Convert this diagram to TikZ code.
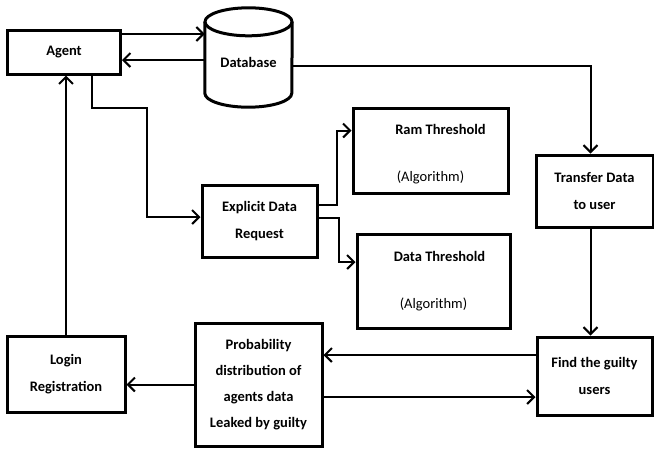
\documentclass[tikz,border=0pt]{standalone}
\usepackage{fontspec}
\setmainfont{Carlito}
\usetikzlibrary{shapes.geometric, arrows.meta, positioning, calc}

\begin{document}
\begin{tikzpicture}[
    x=1pt, y=-1pt,
    block/.style={rectangle, draw, line width=3pt, align=center,
                  font=\bfseries\fontsize{14.5}{27}\selectfont, inner sep=2pt},
    conn/.style={line width=2pt, -{Straight Barb[length=7pt, width=14pt, line width=2pt]}}
]
\useasboundingbox (0,0) rectangle (654,448);

% Top row
\node[block, minimum width=113pt, minimum height=44pt] at (64,52) (agent) {Agent};
\node[rectangle, minimum width=87pt, minimum height=99pt, inner sep=0pt] at (248.5,57.5) (db) {};
% cylinder outline round the database node
\draw[line width=3pt, fill=white]
    ([yshift=-14pt]db.north west) -- ([yshift=14pt]db.south west)
    arc[start angle=180, end angle=360, x radius=43.5pt, y radius=14pt]
    -- ([yshift=-14pt]db.north east);
\draw[line width=3pt] ([yshift=-14pt]db.north) ellipse[x radius=43.5pt, y radius=14pt];
\node[font=\bfseries\fontsize{14.5}{17}\selectfont] at ([yshift=-5pt]db.center) (dblabel) {Database};

% Middle
\node[block, minimum width=115pt, minimum height=72pt] at (259.5,221) (explicit) {Explicit Data\\Request};
\node[block, minimum width=155pt, minimum height=85pt] at (430.5,150.5) (ram)
    {\rule{0pt}{18pt}\hspace*{20pt}Ram Threshold\\[20pt]{\mdseries (Algorithm)}};
\node[block, minimum width=153pt, minimum height=94pt] at (433.5,281) (datath)
    {\hspace*{12pt}Data Threshold\\[20pt]{\mdseries (Algorithm)}};
\node[block, minimum width=117pt, minimum height=72pt] at (594.5,191) (transfer) {Transfer Data\\to user};

% Bottom row
\node[block, minimum width=118pt, minimum height=76pt] at (66,374) (login) {Login\\Registration};
\node[block, minimum width=127pt, minimum height=123pt, font=\bfseries\fontsize{14.5}{26}\selectfont]
    at (258.5,384.5) (prob) {Probability\\distribution of\\agents data\\Leaked by guilty};
\node[block, minimum width=115pt, minimum height=78pt] at (594.5,376) (find) {Find the guilty\\users};

% Connections
\draw[conn] ([yshift=18pt]agent.east) -- ([yshift=18pt]agent.east -| db.west);
\draw[conn] ([yshift=-8pt]agent.east -| db.west) -- ([yshift=-8pt]agent.east);
\draw[conn] ([yshift=-8pt]db.east) -| ([xshift=-4pt]transfer.north);
\draw[conn] ([xshift=28pt]agent.south) |- (147,108) |- ([yshift=4pt]explicit.west);
\draw[conn] ([yshift=16pt]explicit.east) -- ++(18pt,0) |- ([yshift=20pt]ram.west);
\draw[conn] ([yshift=3pt]explicit.east) -- ++(20pt,0) |- ([yshift=19pt]datath.west);
\draw[conn] ([xshift=-4pt]transfer.south) -- ([xshift=-4pt]find.north);
\draw[conn] ([yshift=21pt]find.west) -- ([yshift=21pt]find.west -| prob.east);
\draw[conn] ([yshift=-21pt]find.west -| prob.east) -- ([yshift=-21pt]find.west);
\draw[conn] (prob.west) -- (prob.west -| login.east);
\draw[conn] (login.north) -- (login.north |- agent.south);

\end{tikzpicture}
\end{document}
